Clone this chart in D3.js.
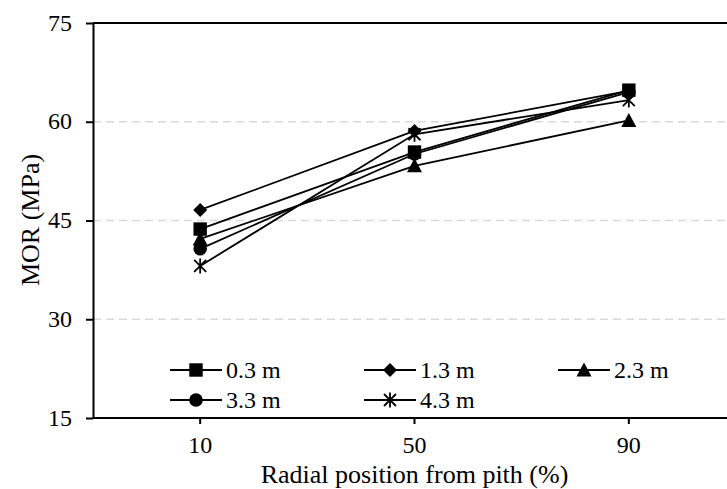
<!DOCTYPE html>
<html>
<head>
<meta charset="utf-8">
<script src="https://cdn.jsdelivr.net/npm/d3@7"></script>
<style>
body { margin:0; background:#fff; }
svg text { font-family: "Liberation Serif", "Times New Roman", serif; fill:#000; }
</style>
</head>
<body>
<svg id="chart" width="727" height="489"></svg>
<script>
// MOR vs radial position, one series per height
var positions = ["10", "50", "90"]
var yTicks = [15, 30, 45, 60, 75]
var heights = ["0.3 m", "1.3 m", "2.3 m", "3.3 m", "4.3 m"]
var mor03 = [43.7, 55.4, 64.8]
var mor13 = [46.6, 58.6, 64.7]
var mor23 = [42.2, 53.3, 60.2]
var mor33 = [40.7, 55.1, 64.5]
var mor43 = [38.1, 58.1, 63.3]
var symbols = ["square", "diamond", "triangle", "circle", "star"]

var series = heights.map(function(h, i){
	return {name: h, sym: symbols[i], vals: [mor03, mor13, mor23, mor33, mor43][i]}
})

var svg = d3.select("#chart")
var plotL = 93, plotT = 23, plotB = 418, plotR = 736

var x = d3.scaleBand().domain(positions).range([plotL, plotR])
var xc = function(d){ return x(d) + x.bandwidth() / 2 }
var y = d3.scaleLinear().domain([15, 75]).range([plotB, plotT])

// grid
svg.append("g").selectAll("line")
	.data(yTicks.filter(function(d){ return d > 15 && d < 75 }))
	.enter().append("line")
	.attr("x1", plotL).attr("x2", plotR)
	.attr("y1", function(d){ return y(d) }).attr("y2", function(d){ return y(d) })
	.attr("stroke", "#d9d9d9").attr("stroke-width", 1.5).attr("stroke-dasharray", "8,5")

// top border
svg.append("line").attr("x1", plotL).attr("x2", plotR).attr("y1", plotT).attr("y2", plotT)
	.attr("stroke", "#000").attr("stroke-width", 2)

// y axis
var yAxis = svg.append("g").attr("transform", "translate(" + plotL + ",0)")
	.call(d3.axisLeft(y).tickValues(yTicks).tickSize(7).tickPadding(14).tickSizeOuter(0))
yAxis.select(".domain").attr("stroke-width", 2)
yAxis.selectAll(".tick line").attr("stroke-width", 2)
yAxis.selectAll("text").style("font-size", "24px").attr("dy", "0.3em")

// x axis
var xAxis = svg.append("g").attr("transform", "translate(0," + plotB + ")")
	.call(d3.axisBottom(x).tickSize(6).tickPadding(12))
xAxis.select(".domain").remove()
xAxis.append("line").attr("x1", plotL).attr("x2", plotR).attr("stroke", "#000").attr("stroke-width", 2)
xAxis.selectAll(".tick line").attr("stroke-width", 2)
xAxis.selectAll("text").style("font-size", "24px")

svg.append("text").attr("x", xc("50")).attr("y", 483).attr("text-anchor", "middle")
	.style("font-size", "26px").text("Radial position from pith (%)")
svg.append("text").attr("transform", "translate(39,220) rotate(-90)").attr("text-anchor", "middle")
	.style("font-size", "26px").text("MOR (MPa)")

function marker(g, sym, cx, cy) {
	if (sym == "square") {
		g.append("rect").attr("x", cx - 6.7).attr("y", cy - 6.7).attr("width", 13.4).attr("height", 13.4).attr("fill", "#000")
	} else if (sym == "diamond") {
		g.append("path").attr("d", "M" + cx + "," + (cy - 7) + "L" + (cx + 7) + "," + cy + "L" + cx + "," + (cy + 7) + "L" + (cx - 7) + "," + cy + "Z").attr("fill", "#000")
	} else if (sym == "triangle") {
		g.append("path").attr("d", "M" + cx + "," + (cy - 7.5) + "L" + (cx + 7.5) + "," + (cy + 6.5) + "L" + (cx - 7.5) + "," + (cy + 6.5) + "Z").attr("fill", "#000")
	} else if (sym == "circle") {
		g.append("circle").attr("cx", cx).attr("cy", cy).attr("r", 6.8).attr("fill", "#000")
	} else {
		var s = 6
		g.append("path").attr("d",
			"M" + (cx - s) + "," + (cy - s) + "L" + (cx + s) + "," + (cy + s) +
			"M" + (cx + s) + "," + (cy - s) + "L" + (cx - s) + "," + (cy + s) +
			"M" + cx + "," + (cy - s - 1.5) + "L" + cx + "," + (cy + s + 1.5))
			.attr("stroke", "#000").attr("stroke-width", 1.8).attr("fill", "none")
	}
}

var line = d3.line().x(function(d, i){ return xc(positions[i]) }).y(function(d){ return y(d) })

series.forEach(function(s){
	var g = svg.append("g")
	g.append("path").attr("d", line(s.vals)).attr("fill", "none").attr("stroke", "#000").attr("stroke-width", 1.8)
	s.vals.forEach(function(v, i){ marker(g, s.sym, xc(positions[i]), y(v)) })
})

// legend
var legend = svg.append("g")
series.forEach(function(s, i){
	var lx = 170 + (i % 3) * 194
	var ly = 370 + Math.floor(i / 3) * 30
	var g = legend.append("g")
	g.append("line").attr("x1", lx).attr("x2", lx + 52).attr("y1", ly).attr("y2", ly).attr("stroke", "#000").attr("stroke-width", 1.8)
	marker(g, s.sym, lx + 26, ly)
	g.append("text").attr("x", lx + 56).attr("y", ly + 8).style("font-size", "24px").text(s.name)
})
</script>
</body>
</html>
